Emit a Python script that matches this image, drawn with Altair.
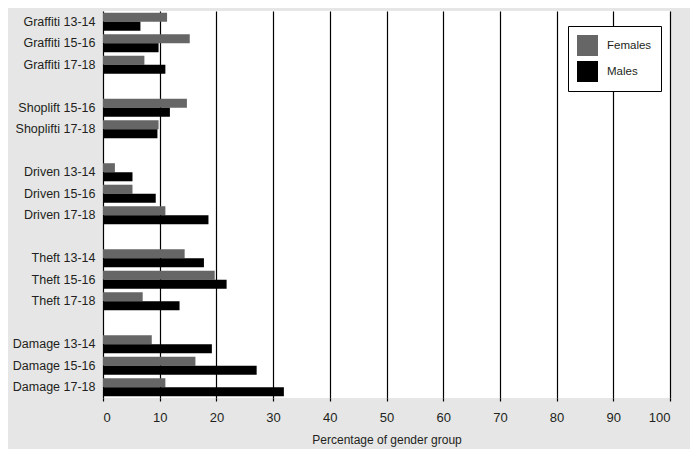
import altair as alt
import pandas as pd

categories = ["Graffiti 13-14", "Graffiti 15-16", "Graffiti 17-18",
              "Shoplift 15-16", "Shoplifti 17-18",
              "Driven 13-14", "Driven 15-16", "Driven 17-18",
              "Theft 13-14", "Theft 15-16", "Theft 17-18",
              "Damage 13-14", "Damage 15-16", "Damage 17-18"]
females = [11.3, 15.3, 7.3, 14.8, 9.8, 2.1, 5.2, 11.0, 14.4, 19.7, 7.0, 8.6, 16.3, 11.0]
males = [6.6, 9.8, 11.0, 11.8, 9.6, 5.2, 9.3, 18.6, 17.8, 21.8, 13.5, 19.2, 27.1, 31.9]
genders = ["Females", "Males"]
gender_colors = ["#666666", "#000000"]

# slot order with blank separator rows between offence groups
slot_order = ["Graffiti 13-14", "Graffiti 15-16", "Graffiti 17-18", " ",
              "Shoplift 15-16", "Shoplifti 17-18", "  ",
              "Driven 13-14", "Driven 15-16", "Driven 17-18", "   ",
              "Theft 13-14", "Theft 15-16", "Theft 17-18", "    ",
              "Damage 13-14", "Damage 15-16", "Damage 17-18"]

rows = []
for c, f, m in zip(categories, females, males):
    rows.append({"cat": c, "gender": "Females", "value": f})
    rows.append({"cat": c, "gender": "Males", "value": m})
df = pd.DataFrame(rows)

FONT = "Liberation Sans"
TXT = "#231f20"

chart = alt.Chart(df).mark_bar().encode(
    y=alt.Y("cat:N", sort=slot_order,
            scale=alt.Scale(domain=slot_order, paddingInner=0.16, paddingOuter=0.08),
            axis=alt.Axis(title=None, ticks=False, domain=False, grid=False,
                          labelPadding=8, labelFontSize=12.5, labelFont=FONT,
                          labelColor=TXT)),
    yOffset=alt.YOffset("gender:N", sort=genders),
    x=alt.X("value:Q", scale=alt.Scale(domain=[0, 100], nice=False),
            axis=alt.Axis(title="Percentage of gender group", values=list(range(0, 101, 10)),
                          grid=True, gridColor="#000000", gridOpacity=1, gridWidth=1.2,
                          domain=False, tickColor="#000000", tickSize=3, tickWidth=1.2,
                          labelPadding=10, labelFontSize=13, labelFont=FONT, labelColor=TXT,
                          titleFont=FONT, titleFontSize=12, titleFontWeight="normal",
                          titleColor=TXT, titlePadding=10)),
    color=alt.Color("gender:N", sort=genders,
                    scale=alt.Scale(domain=genders, range=gender_colors),
                    legend=alt.Legend(title=None, orient="none", legendX=465, legendY=15,
                                      symbolType="square", symbolSize=441,
                                      symbolStrokeWidth=0, labelFontSize=11.5,
                                      labelFont=FONT, labelColor=TXT, labelOffset=9,
                                      rowPadding=5, padding=9,
                                      fillColor="#ffffff", strokeColor="#000000")),
).properties(
    width=567, height=387,
    background="#e6e6e6",
    autosize=alt.AutoSizeParams(type="none"),
    padding={"left": 95, "top": 3, "right": 20, "bottom": 51},
).configure_view(fill="#ffffff", stroke=None)

chart.save("out.html", embed_options={"renderer": "svg", "actions": False})
